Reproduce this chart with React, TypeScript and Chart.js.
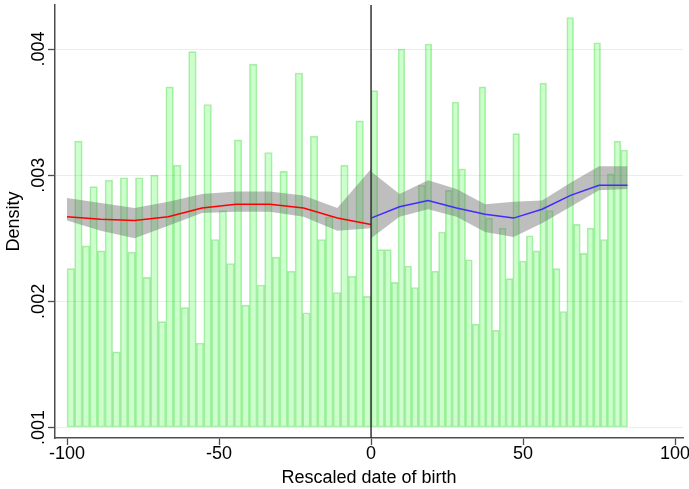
import React, { useEffect, useRef } from 'react';
import { Chart, registerables } from 'chart.js';

Chart.register(...registerables);

// Histogram bins
const leftBinStart = -100;
const leftBinWidth = 2.5;
const rightBinStart = 0;
const rightBinWidth = 2.22;

const leftDensity = [
  0.00226, 0.00327, 0.00244, 0.00291, 0.00240, 0.00296, 0.00160, 0.00298, 0.00239, 0.00298,
  0.00219, 0.00300, 0.00184, 0.00370, 0.00308, 0.00195, 0.00398, 0.00167, 0.00356, 0.00249,
  0.00272, 0.00230, 0.00328, 0.00197, 0.00388, 0.00213, 0.00318, 0.00235, 0.00303, 0.00224,
  0.00381, 0.00191, 0.00331, 0.00249, 0.00267, 0.00207, 0.00308, 0.00220, 0.00343, 0.00204,
];

const rightDensity = [
  0.00367, 0.00241, 0.00241, 0.00215, 0.00400, 0.00228, 0.00211, 0.00292, 0.00404, 0.00224,
  0.00255, 0.00288, 0.00358, 0.00305, 0.00233, 0.00182, 0.00370, 0.00266, 0.00177, 0.00258,
  0.00218, 0.00333, 0.00232, 0.00252, 0.00240, 0.00373, 0.00272, 0.00226, 0.00192, 0.00425,
  0.00261, 0.00238, 0.00258, 0.00405, 0.00249, 0.00301, 0.00327, 0.00320,
];

// Local polynomial density fits with confidence bands
const leftGrid = [-100, -88.9, -77.8, -66.7, -55.6, -44.4, -33.3, -22.2, -11.1, 0];
const leftFit = [0.00267, 0.00265, 0.00264, 0.00267, 0.00274, 0.00277, 0.00277, 0.00274, 0.00266, 0.00261];
const leftUpper = [0.00282, 0.00278, 0.00274, 0.00279, 0.00285, 0.00287, 0.00287, 0.00284, 0.00274, 0.00305];
const leftLower = [0.00264, 0.00256, 0.00250, 0.00260, 0.00270, 0.00271, 0.00271, 0.00267, 0.00256, 0.00258];

const rightGrid = [0, 9.37, 18.75, 28.12, 37.49, 46.87, 56.24, 65.61, 74.99, 84.36];
const rightFit = [0.00266, 0.00275, 0.00280, 0.00274, 0.00269, 0.00266, 0.00273, 0.00284, 0.00292, 0.00292];
const rightUpper = [0.00303, 0.00285, 0.00296, 0.00289, 0.00277, 0.00279, 0.00280, 0.00294, 0.00307, 0.00307];
const rightLower = [0.00250, 0.00267, 0.00273, 0.00267, 0.00255, 0.00251, 0.00262, 0.00275, 0.00288, 0.00289];

// Axes
const xTicks = [-100, -50, 0, 50, 100];
const yTicks = [0.001, 0.002, 0.003, 0.004];
const yTickLabels = ['.001', '.002', '.003', '.004'];
const xMin = -103.95;
const xMax = 102.6;
const yMin = 0.000917;
const yMax = 0.004349;
const barBase = 0.001;
const cutoff = 0;

const FONT = '"Liberation Sans", Helvetica, Arial, sans-serif';
const FONT_SIZE = 18;
const AXIS_COLOR = '#4d4d4d';

const toPoints = (xs: number[], ys: number[]) => xs.map((x, i) => ({ x, y: ys[i] }));
const binPoints = (start: number, width: number, ys: number[]) =>
  ys.map((y, i) => ({ x: start + width * (i + 0.5), y }));

const yLabelPlugin = {
  id: 'yRotatedLabels',
  afterDraw(chart: any) {
    const { ctx } = chart;
    const y = chart.scales.y;
    ctx.save();
    ctx.font = `${FONT_SIZE}px ${FONT}`;
    ctx.fillStyle = '#000';
    ctx.textAlign = 'center';
    ctx.textBaseline = 'alphabetic';
    yTicks.forEach((v, i) => {
      const py = y.getPixelForValue(v);
      ctx.save();
      ctx.translate(y.right - 11, py);
      ctx.rotate(-Math.PI / 2);
      ctx.fillText(yTickLabels[i], 0, 0);
      ctx.restore();
    });
    ctx.restore();
  },
};

export default function App() {
  const canvasRef = useRef<HTMLCanvasElement | null>(null);

  useEffect(() => {
    if (!canvasRef.current) return;
    const barCommon = {
      type: 'bar' as const,
      backgroundColor: 'rgba(0, 255, 0, 0.2)',
      borderColor: 'rgba(0, 200, 0, 0.3)',
      borderWidth: 1,
      borderSkipped: false,
      barThickness: 'flex' as const,
      categoryPercentage: 1,
      barPercentage: 1,
      skipNull: true,
      base: barBase,
      order: 3,
    };
    const lineCommon = {
      type: 'line' as const,
      pointRadius: 0,
      tension: 0,
    };
    const band = 'rgba(110, 110, 110, 0.45)';

    const chart = new Chart(canvasRef.current, {
      type: 'line',
      data: {
        datasets: [
          {
            ...lineCommon,
            data: [
              { x: cutoff, y: yMin },
              { x: cutoff, y: yMax },
            ],
            borderColor: '#333333',
            borderWidth: 1.5,
            fill: false,
            order: 0,
          },
          { ...lineCommon, data: toPoints(leftGrid, leftFit), borderColor: '#ff0000', borderWidth: 1.5, fill: false, order: 1 },
          { ...lineCommon, data: toPoints(rightGrid, rightFit), borderColor: '#3f2cff', borderWidth: 1.5, fill: false, order: 1 },
          { ...lineCommon, data: toPoints(leftGrid, leftUpper), borderColor: 'transparent', borderWidth: 0, backgroundColor: band, fill: '+1', order: 2 },
          { ...lineCommon, data: toPoints(leftGrid, leftLower), borderColor: 'transparent', borderWidth: 0, fill: false, order: 2 },
          { ...lineCommon, data: toPoints(rightGrid, rightUpper), borderColor: 'transparent', borderWidth: 0, backgroundColor: band, fill: '+1', order: 2 },
          { ...lineCommon, data: toPoints(rightGrid, rightLower), borderColor: 'transparent', borderWidth: 0, fill: false, order: 2 },
          { ...barCommon, data: binPoints(leftBinStart, leftBinWidth, leftDensity) },
          { ...barCommon, data: binPoints(rightBinStart, rightBinWidth, rightDensity) },
        ] as any,
      },
      options: {
        animation: false,
        responsive: false,
        maintainAspectRatio: false,
        devicePixelRatio: 1,
        layout: { padding: { left: 0, right: 6, top: 5, bottom: 0 } },
        plugins: {
          legend: { display: false },
          tooltip: { enabled: false },
        },
        scales: {
          x: {
            type: 'linear',
            min: xMin,
            max: xMax,
            offset: false,
            afterBuildTicks: (scale: any) => {
              scale.ticks = xTicks.map((value) => ({ value }));
            },
            afterFit: (scale: any) => {
              scale.height = 51;
              scale.paddingLeft = 0;
              scale.paddingRight = 0;
            },
            grid: {
              offset: false,
              drawOnChartArea: false,
              drawTicks: true,
              tickLength: 7,
              tickColor: AXIS_COLOR,
              tickWidth: 1.3,
            },
            border: { display: true, color: AXIS_COLOR, width: 1.5 },
            ticks: {
              color: '#000',
              padding: -2,
              maxRotation: 0,
              minRotation: 0,
              font: { family: FONT, size: FONT_SIZE },
              callback: (v: any) => String(v),
            },
            title: {
              display: true,
              text: 'Rescaled date of birth',
              color: '#000',
              font: { family: FONT, size: FONT_SIZE },
              padding: { top: 0, bottom: 0 },
            },
          },
          y: {
            type: 'linear',
            min: yMin,
            max: yMax,
            afterBuildTicks: (scale: any) => {
              scale.ticks = yTicks.map((value) => ({ value }));
            },
            afterFit: (scale: any) => {
              scale.width = 55;
              scale.paddingTop = 0;
              scale.paddingBottom = 0;
            },
            grid: {
              color: '#e4f0f3',
              lineWidth: 1,
              drawTicks: true,
              tickLength: 7,
              tickColor: AXIS_COLOR,
              tickWidth: 1.3,
            },
            border: { display: true, color: AXIS_COLOR, width: 1.5 },
            ticks: { display: false },
            title: {
              display: true,
              text: 'Density',
              color: '#000',
              font: { family: FONT, size: FONT_SIZE },
              padding: { top: 3, bottom: 0 },
            },
          },
        },
      } as any,
      plugins: [yLabelPlugin],
    });
    return () => chart.destroy();
  }, []);

  return (
    <div style={{ position: 'absolute', left: 0, top: 0, width: 689, height: 489, background: '#fff' }}>
      <canvas ref={canvasRef} width={689} height={489} style={{ width: 689, height: 489, display: 'block' }} />
    </div>
  );
}
